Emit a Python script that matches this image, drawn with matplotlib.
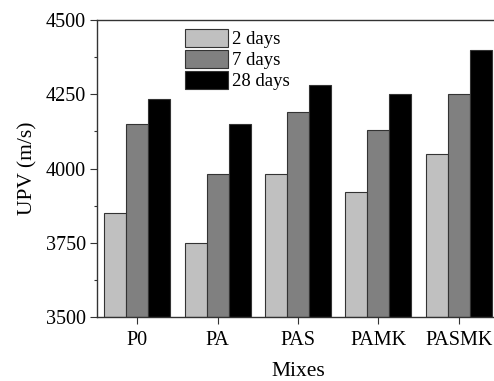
import matplotlib
matplotlib.use("Agg")
import matplotlib.pyplot as plt
import numpy as np
from matplotlib.ticker import MultipleLocator

mixes = ["P0", "PA", "PAS", "PAMK", "PASMK"]
days2 = [3850, 3750, 3980, 3920, 4050]
days7 = [4150, 3980, 4190, 4130, 4250]
days28 = [4235, 4150, 4280, 4250, 4400]
series_labels = ["2 days", "7 days", "28 days"]
colors = ["#c0c0c0", "#808080", "#000000"]

plt.rcParams['font.family'] = ['Liberation Serif', 'DejaVu Serif']

fig = plt.figure(figsize=(4.94, 3.81), dpi=100)
ax = fig.add_axes([97/494, 1-317/381, (499-97)/494, (317-20)/381])

x = np.arange(len(mixes))
w = 0.273
for i, (vals, lab, c) in enumerate(zip([days2, days7, days28], series_labels, colors)):
    ax.bar(x + (i-1)*w, np.array(vals) - 3500, bottom=3500, width=w, color=c,
           edgecolor="#333333", linewidth=0.8, label=lab)

ax.set_xlim(-0.5, 4.5)
ax.set_ylim(3500, 4500)
ax.set_xticks(x)
ax.set_xticklabels(mixes, fontsize=14.5)
ax.yaxis.set_major_locator(MultipleLocator(250))
ax.yaxis.set_minor_locator(MultipleLocator(125))
ax.tick_params(axis='y', labelsize=14.5, pad=3)
ax.tick_params(axis='x', pad=5)
ax.tick_params(direction='out', length=5, width=0.8, color="#333333")
ax.tick_params(which='minor', direction='out', length=2.5, width=0.8, color="#333333")
for s in ax.spines.values():
    s.set_color("#333333")
    s.set_linewidth(1.0)
ax.set_ylabel("UPV (m/s)", fontsize=15.5, labelpad=6)
ax.set_xlabel("Mixes", fontsize=15.5, labelpad=9)

leg = ax.legend(loc="upper left", bbox_to_anchor=((185-97)/402, 0.97), frameon=False,
                fontsize=13.5, handlelength=2.3, handleheight=1.1,
                labelspacing=0.08, handletextpad=0.2, borderpad=0, borderaxespad=0)

fig.savefig("out.png", dpi=100)
